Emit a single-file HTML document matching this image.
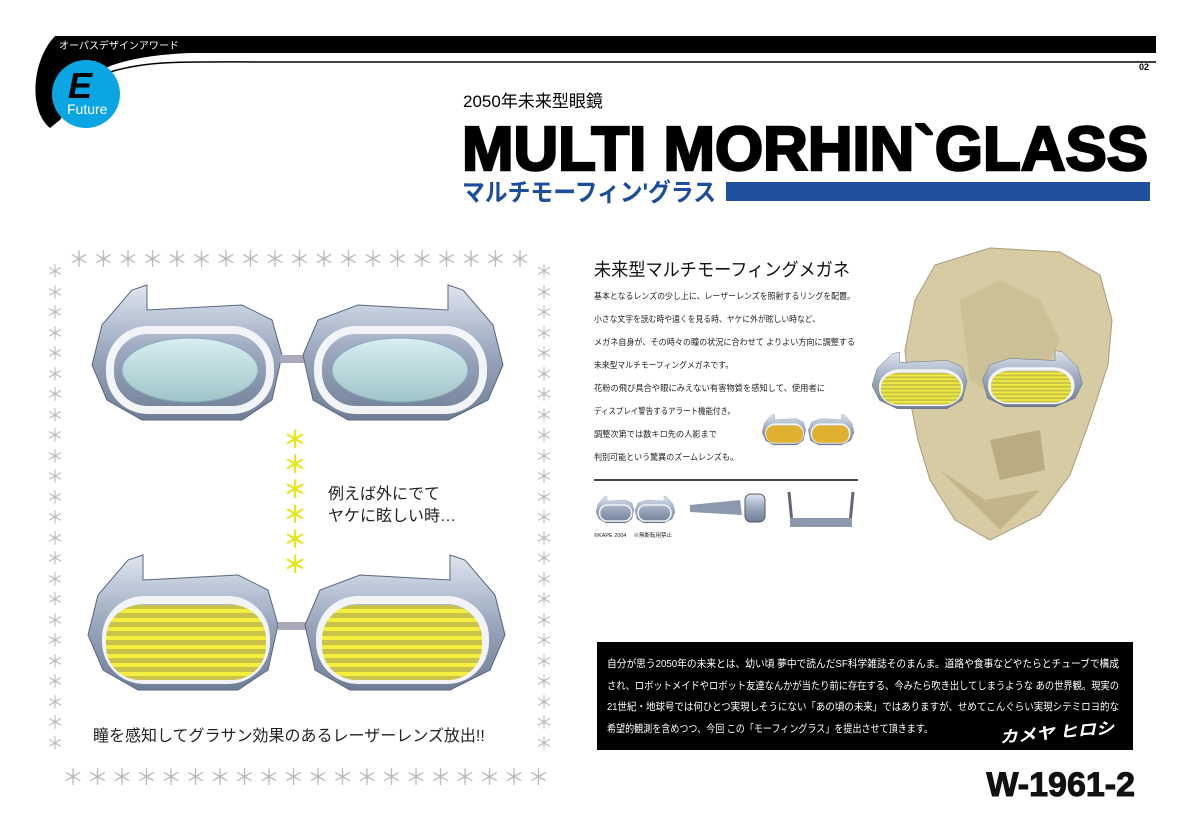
<!DOCTYPE html>
<html><head><meta charset="utf-8"><style>
body{margin:0;background:#fff;}
#p{position:relative;width:1181px;height:835px;overflow:hidden;font-family:"Liberation Sans","Noto Sans CJK JP",sans-serif;}
.a{position:absolute;white-space:nowrap;}
</style></head><body><div id="p">
<svg width="1181" height="835" style="position:absolute;left:0;top:0" font-family="Liberation Sans,Noto Sans CJK JP,sans-serif">
<defs>
<linearGradient id="fr" x1="0" y1="0" x2="0" y2="1"><stop offset="0" stop-color="#dfe6f0"/><stop offset=".5" stop-color="#9aa7bd"/><stop offset="1" stop-color="#6f7d96"/></linearGradient>
<linearGradient id="ln" x1="0" y1="0" x2="0" y2="1"><stop offset="0" stop-color="#d9eef0"/><stop offset="1" stop-color="#9fc4c9"/></linearGradient>
<pattern id="ys" width="6" height="9" patternUnits="userSpaceOnUse"><rect width="6" height="9" fill="#c8c24a"/><rect width="6" height="4" fill="#f4ef3c"/></pattern>
<g id="lensL">
<path d="M10,40 L40,5 L55,0 L55,25 L150,20 L180,35 L190,70 L180,115 L150,135 L50,135 L15,115 L0,80 Z" fill="url(#fr)" stroke="#5a6680"/>
<rect x="18" y="45" width="160" height="80" rx="38" fill="none" stroke="#f2f4f8" stroke-width="8"/>
</g>
<g id="lensR">
<path d="M5,70 L20,35 L60,20 L150,25 L150,0 L165,5 L195,40 L205,80 L190,115 L150,135 L50,135 L15,115 Z" fill="url(#fr)" stroke="#5a6680"/>
<rect x="20" y="45" width="165" height="80" rx="38" fill="none" stroke="#f2f4f8" stroke-width="8"/>
</g>
</defs>
<path d="M55,36 L1156,36 L1156,53 L190,53 C120,56 100,70 82,80 L60,120 L50,128 C28,110 32,60 55,36 Z" fill="#000"/>
<path d="M110,72 C150,60 180,62 280,62 L1156,62" fill="none" stroke="#000" stroke-width="1.5"/>
<circle cx="86" cy="94" r="34" fill="#0aa5e2"/>
<text x="68" y="98" font-family="Liberation Sans" font-weight="bold" font-style="italic" font-size="36" fill="#000">E</text>
<text x="67" y="114" font-family="Liberation Sans" font-size="14" fill="#fff">Future</text>
<text x="59" y="49" font-size="10" fill="#fff">オーパスデザインアワード</text>
<text x="1139" y="70" font-size="9" font-weight="bold" font-family="Liberation Sans">02</text>
<text x="463" y="107" font-size="17">2050年未来型眼鏡</text>
<text x="462" y="170" font-size="62" font-weight="bold" font-family="Liberation Sans" stroke="#000" stroke-width="2.5" textLength="686" lengthAdjust="spacingAndGlyphs">MULTI MORHIN`GLASS</text>
<text x="462" y="201" font-size="25" font-weight="bold" fill="#1c4c9c" textLength="254" lengthAdjust="spacingAndGlyphs">マルチモーフィン'グラス</text>
<rect x="726" y="182" width="424" height="19" fill="#1f4f9d"/>
<g transform="translate(92,285)"><use href="#lensL"/><ellipse cx="98" cy="85" rx="68" ry="32" fill="url(#ln)" stroke="#8ab"/></g>
<rect x="280" y="355" width="30" height="8" fill="#aab"/>
<g transform="translate(298,285)"><use href="#lensR"/><ellipse cx="102" cy="85" rx="68" ry="32" fill="url(#ln)" stroke="#8ab"/></g>
<g transform="translate(88,555)"><use href="#lensL"/><rect x="18" y="50" width="160" height="75" rx="34" fill="url(#ys)"/></g>
<rect x="278" y="622" width="30" height="8" fill="#aab"/>
<g transform="translate(300,555)"><use href="#lensR"/><rect x="22" y="50" width="160" height="75" rx="34" fill="url(#ys)"/></g>
<text x="594" y="276" font-size="18" fill="#111" textLength="256" lengthAdjust="spacingAndGlyphs">未来型マルチモーフィングメガネ</text>
<g font-size="8.5" fill="#222">
<text x="594" y="299" textLength="261" lengthAdjust="spacingAndGlyphs">基本となるレンズの少し上に、レーザーレンズを照射するリングを配置。</text>
<text x="594" y="322" textLength="226" lengthAdjust="spacingAndGlyphs">小さな文字を読む時や遠くを見る時、ヤケに外が眩しい時など、</text>
<text x="594" y="345" textLength="261" lengthAdjust="spacingAndGlyphs">メガネ自身が、その時々の瞳の状況に合わせて よりよい方向に調整する</text>
<text x="594" y="368" textLength="139" lengthAdjust="spacingAndGlyphs">未来型マルチモーフィングメガネです。</text>
<text x="594" y="391" textLength="231" lengthAdjust="spacingAndGlyphs">花粉の飛び具合や眼にみえない有害物質を感知して、使用者に</text>
<text x="594" y="414" textLength="141" lengthAdjust="spacingAndGlyphs">ディスプレイ警告するアラート機能付き。</text>
<text x="594" y="437" textLength="123" lengthAdjust="spacingAndGlyphs">調整次第では数キロ先の人影まで</text>
<text x="594" y="460" textLength="144" lengthAdjust="spacingAndGlyphs">判別可能という驚異のズームレンズも。</text>
</g>
<rect x="594" y="479" width="264" height="2" fill="#444"/>
<g transform="translate(762,414) scale(0.23)"><use href="#lensL"/><rect x="18" y="50" width="160" height="75" rx="34" fill="#e0b030"/></g>
<g transform="translate(807,414) scale(0.23)"><use href="#lensR"/><rect x="22" y="50" width="160" height="75" rx="34" fill="#e0b030"/></g>
<g transform="translate(596,496) scale(0.2)"><use href="#lensL"/></g>
<g transform="translate(634,496) scale(0.2)"><use href="#lensR"/></g>
<path d="M690,505 L740,500 L742,515 L690,512 Z" fill="#8c98ae"/>
<rect x="745" y="494" width="20" height="28" rx="6" fill="url(#fr)" stroke="#556"/>
<path d="M789,492 L792,523 L850,523 L853,492" fill="none" stroke="#667" stroke-width="3"/>
<rect x="790" y="518" width="62" height="9" fill="#8c98ae"/>
<text x="594" y="537" font-size="5.5" fill="#222">©KAPE 2004 　※無断転用禁止</text>
<path d="M935,265 L990,248 L1060,252 L1100,275 L1112,320 L1108,365 L1090,420 L1070,475 L1040,515 L990,540 L955,520 L930,480 L918,440 L910,400 L905,350 L915,300 Z" fill="#d7cba3" stroke="#a89c7a"/>
<path d="M960,300 L1000,280 L1040,300 L1060,340 L1040,380 L1000,400 L970,380 Z" fill="#c8bb90" opacity=".7"/>
<path d="M990,440 L1040,430 L1045,470 L1000,480 Z" fill="#b9ac83"/>
<path d="M940,470 L985,500 L1040,490 L1000,530 Z" fill="#c2b58b"/>
<g transform="translate(872,352) scale(0.5,0.42)"><use href="#lensL"/><rect x="18" y="50" width="160" height="75" rx="34" fill="url(#ys)"/></g>
<g transform="translate(980,350) scale(0.5,0.42)"><use href="#lensR"/><rect x="22" y="50" width="160" height="75" rx="34" fill="url(#ys)"/></g>
<rect x="597" y="642" width="536" height="108" fill="#000"/>
<g font-size="10.5" fill="#fff">
<text x="607" y="667" textLength="512" lengthAdjust="spacingAndGlyphs">自分が思う2050年の未来とは、幼い頃 夢中で読んだSF科学雑誌そのまんま。道路や食事などやたらとチューブで構成</text>
<text x="607" y="689" textLength="512" lengthAdjust="spacingAndGlyphs">され、ロボットメイドやロボット友達なんかが当たり前に存在する、今みたら吹き出してしまうような あの世界観。現実の</text>
<text x="607" y="710" textLength="512" lengthAdjust="spacingAndGlyphs">21世紀・地球号では何ひとつ実現しそうにない「あの頃の未来」ではありますが、せめてこんぐらい実現シテミロヨ的な</text>
<text x="607" y="732" textLength="326" lengthAdjust="spacingAndGlyphs">希望的観測を含めつつ、今回 この「モーフィングラス」を提出させて頂きます。</text>
</g>
<text x="1000" y="743" font-size="16" fill="#fff" font-style="italic" font-weight="bold" transform="rotate(-5 1000 743)" textLength="115" lengthAdjust="spacingAndGlyphs">カメヤ ヒロシ</text>
<text x="1135" y="796" text-anchor="end" font-family="Liberation Sans" font-size="34" font-weight="bold" fill="#111" stroke="#111" stroke-width="1">W-1961-2</text>
</svg>
<div class="a" style="left:68px;top:242px;font-size:22px;color:#bbb;letter-spacing:2.5px;">＊＊＊＊＊＊＊＊＊＊＊＊＊＊＊＊＊＊＊</div>
<div class="a" style="left:62px;top:760px;font-size:22px;color:#bbb;letter-spacing:2.5px;">＊＊＊＊＊＊＊＊＊＊＊＊＊＊＊＊＊＊＊＊</div>
<div class="a" style="left:46px;top:262px;font-size:18px;line-height:20.5px;color:#bbb;white-space:normal;width:20px;">＊<br>＊<br>＊<br>＊<br>＊<br>＊<br>＊<br>＊<br>＊<br>＊<br>＊<br>＊<br>＊<br>＊<br>＊<br>＊<br>＊<br>＊<br>＊<br>＊<br>＊<br>＊<br>＊<br>＊</div>
<div class="a" style="left:535px;top:262px;font-size:18px;line-height:20.5px;color:#bbb;white-space:normal;width:20px;">＊<br>＊<br>＊<br>＊<br>＊<br>＊<br>＊<br>＊<br>＊<br>＊<br>＊<br>＊<br>＊<br>＊<br>＊<br>＊<br>＊<br>＊<br>＊<br>＊<br>＊<br>＊<br>＊<br>＊</div>
<div class="a" style="left:283px;top:428px;font-size:24px;line-height:25px;color:#e6e620;font-weight:bold;">＊<br>＊<br>＊<br>＊<br>＊<br>＊</div>
<div class="a" style="left:328px;top:484px;font-size:16px;line-height:22px;color:#222;">例えば外にでて<br>ヤケに眩しい時…</div>
<div class="a" style="left:93px;top:722px;font-size:16px;color:#222;">瞳を感知してグラサン効果のあるレーザーレンズ放出!!</div>
</div></body></html>
